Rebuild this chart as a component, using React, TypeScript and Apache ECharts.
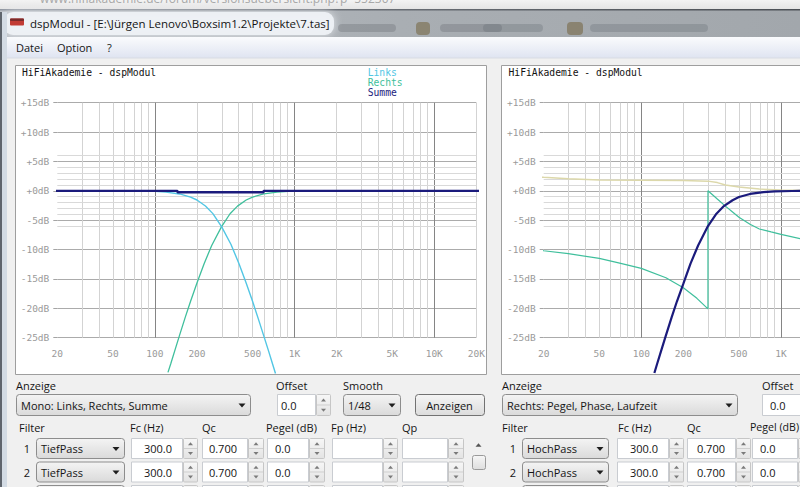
import React, { useEffect, useRef } from 'react';
import * as echarts from 'echarts';

// ---------- data ----------
const xTickFreqs = [20, 50, 100, 200, 500, 1000, 2000, 5000, 10000, 20000];
const xTickLabels = ['20', '50', '100', '200', '500', '1K', '2K', '5K', '10K', '20K'];
const rightVisibleMaxFreq = 1000; // the right window is cut by the screen edge after 1K
const gridFreqs = [20, 30, 40, 50, 60, 70, 80, 90, 100, 200, 300, 400, 500, 600, 700, 800, 900,
  1000, 2000, 3000, 4000, 5000, 6000, 7000, 8000, 9000, 10000, 20000];
const decadeFreqs = [100, 1000, 10000];
const fineDbLines = [-6, -4, -3, -2, -1, 1, 2, 3, 4, 6];

const linksFreq = [20, 50, 100, 120, 150, 180, 200, 230, 260, 300, 350, 400, 450, 500, 550, 600, 650, 700, 730];
const linksDb = [0, -0.02, -0.1, -0.22, -0.53, -1.06, -1.56, -2.58, -3.88, -6.1, -9.1, -12.4, -15.7, -18.8, -21.8, -24.6, -27.2, -29.7, -31.1];

const rechtsFreq = [124, 130, 140, 150, 165, 180, 200, 225, 255, 300, 345, 390, 450, 500, 600, 750, 900, 1200, 2000, 20000];
const rechtsDb = [-30.9, -29.4, -26.9, -24.6, -21.5, -18.8, -15.7, -12.4, -9.3, -6.1, -3.9, -2.6, -1.56, -1.06, -0.53, -0.22, -0.1, -0.03, 0, 0];

const summeFreq = [18.6, 145, 145, 600, 600, 23000];
const summeDb = [0, 0, -0.25, -0.25, 0, 0];

const pegelFreq = [124, 130, 140, 150, 165, 180, 200, 225, 255, 300, 345, 390, 450, 500, 600, 750, 900, 1200, 2000, 20000];
const pegelDb = [-31.0, -29.4, -26.9, -24.6, -21.5, -18.8, -15.8, -12.4, -9.3, -6.0, -3.9, -2.6, -1.6, -1.06, -0.53, -0.22, -0.1, -0.03, 0, 0];

const phaseFreq = [19.2, 20, 30, 50, 70, 100, 150, 200, 250, 300, 300, 350, 400, 450, 500, 600, 700, 850, 1000, 1400, 2000, 5000, 20000];
const phaseDb = [-10.1, -10.2, -10.7, -11.5, -12.3, -13.2, -14.8, -16.5, -18.3, -20.1, 0, -1.4, -2.6, -3.6, -4.5, -5.7, -6.5, -7.0, -7.4, -8.2, -9.0, -10.5, -11.5];

const laufzeitFreq = [19, 20, 30, 50, 100, 200, 300, 350, 400, 500, 700, 1000, 1400, 2000, 20000];
const laufzeitDb = [2.35, 2.3, 2.05, 1.85, 1.8, 1.75, 1.65, 1.4, 1.0, 0.65, 0.3, 0.15, 0.1, 0.05, 0];

const legendNames = ['Links', 'Rechts', 'Summe'];

// ---------- styles ----------
const MONO = '"DejaVu Sans Mono", "Liberation Mono", monospace';
const UI = '"Open Sans", "Noto Sans", sans-serif';
const C_LINKS = '#52c6e4';
const C_RECHTS = '#3fbf9c';
const C_SUMME = '#1b1b7c';
const C_BEIGE = '#dcd8aa';
const AXIS_TXT = '#9a9a9a';

function vgrad(c1: string, c2: string) {
  return { type: 'linear', x: 0, y: 0, x2: 0, y2: 1, colorStops: [{ offset: 0, color: c1 }, { offset: 1, color: c2 }] };
}
function rect(x: number, y: number, w: number, h: number, fill: any, stroke?: string, r = 0, z = -5, extra: any = {}) {
  return { type: 'rect', z, silent: true, shape: { x, y, width: w, height: h, r }, style: { fill, stroke: stroke || 'none', lineWidth: 1, ...extra } };
}
function txt(x: number, y: number, text: string, opt: any = {}) {
  const align = opt.align || 'left';
  return {
    type: 'text', z: 6, silent: true, x, y,
    style: {
      text, fill: opt.fill || '#151515', font: opt.font || `11px ${UI}`,
      textAlign: align, align, textVerticalAlign: 'middle', verticalAlign: 'middle',
    },
  };
}
function tri(cx: number, cy: number, w: number, h: number, up: boolean, fill: string) {
  const pts = up
    ? [[cx - w / 2, cy + h / 2], [cx + w / 2, cy + h / 2], [cx, cy - h / 2]]
    : [[cx - w / 2, cy - h / 2], [cx + w / 2, cy - h / 2], [cx, cy + h / 2]];
  return { type: 'polygon', z: 6, silent: true, shape: { points: pts }, style: { fill } };
}
function combo(x: number, y: number, w: number, h: number, label: string) {
  return [
    rect(x + 0.5, y + 0.5, w, h, vgrad('#f4f4f4', '#dadada'), '#8d8d8d', 3, 2),
    txt(x + 5, y + h / 2 + 0.5, label),
    tri(x + w - 8, y + h / 2 + 1, 7, 4, false, '#1e1e1e'),
  ];
}
function input(x: number, y: number, w: number, h: number, val: string, align: 'left' | 'right', pad: number) {
  const arr: any[] = [rect(x + 0.5, y + 0.5, w, h, '#ffffff', '#c9ccd1', 0, 2)];
  if (val) arr.push(txt(align === 'right' ? x + w - pad : x + pad, y + h / 2 + 0.5, val, { align }));
  return arr;
}
function spinner(x: number, y: number, w: number, h: number) {
  return [
    rect(x + 0.5, y + 0.5, w - 1, h, vgrad('#f7f7f7', '#e3e3e3'), '#c6c6c6', 1, 2),
    { type: 'line', z: 3, silent: true, shape: { x1: x + 1, y1: y + h / 2 + 0.5, x2: x + w - 1, y2: y + h / 2 + 0.5 }, style: { stroke: '#cfcfcf', lineWidth: 1 } },
    tri(x + w / 2, y + h / 4 + 0.8, 5, 3, true, '#7a7a7a'),
    tri(x + w / 2, y + (3 * h) / 4 + 0.5, 5, 3, false, '#7a7a7a'),
  ];
}
function button(x: number, y: number, w: number, h: number, label: string) {
  return [
    rect(x + 0.5, y + 0.5, w, h, vgrad('#f5f5f5', '#dcdcdc'), '#727272', 3, 2),
    txt(x + w / 2, y + h / 2 + 0.5, label, { align: 'center' }),
  ];
}

type Cell = [number, number, string, 'left' | 'right', number, number]; // x, w, value, align, pad, spinnerW
function filterRow(y: number, n: string, numX: number, comboX: number, comboW: number, type: string, cells: Cell[]) {
  const h = 20;
  let arr: any[] = [...combo(comboX, y, comboW, h, type)];
  if (n) arr.push(txt(numX, y + h / 2 + 0.5, n, { align: 'center' }));
  cells.forEach(([x, w, v, al, pad, sw]) => {
    arr = arr.concat(input(x, y, w, h, v, al, pad), spinner(x + w + 1, y, sw, h));
  });
  return arr;
}

function buildUi() {
  let g: any[] = [];
  // browser strip behind the window
  g.push(rect(0, 0, 800, 11, vgrad('#f3f3f3', '#e1e1e1'), undefined, 0, -20));
  g.push(txt(40, -1.5, 'www.hifiakademie.de/forum/versionsuebersicht.php?p=552307', { fill: '#a8a8a8', font: `12px ${UI}` }));
  // title bar (glass)
  g.push(rect(0, 10, 800, 27, { type: 'linear', x: 0, y: 0, x2: 1, y2: 0, colorStops: [
    { offset: 0, color: '#b9bec4' }, { offset: 0.5, color: '#a9aeb3' }, { offset: 1, color: '#a2a7ac' }] }, undefined, 0, -20));
  g.push(rect(0, 9, 800, 1.5, { type: 'linear', x: 0, y: 0, x2: 1, y2: 0, colorStops: [
    { offset: 0, color: '#9096a0' }, { offset: 0.45, color: '#6a6f76' }, { offset: 1, color: '#4c5056' }] }, undefined, 0, -19));
  g.push(rect(4, 12, 330, 23, 'rgba(238,241,245,0.95)', undefined, 9, -19, { shadowBlur: 8, shadowColor: 'rgba(238,241,245,0.9)' }));
  // blurred things behind the glass
  g.push(rect(338, 24, 58, 8, 'rgba(95,100,106,0.3)', undefined, 4, -18));
  g.push(rect(416, 22, 14, 13, 'rgba(110,92,50,0.5)', undefined, 4, -18));
  g.push(rect(440, 24, 62, 8, 'rgba(95,100,106,0.3)', undefined, 4, -18));
  g.push(rect(483, 24, 60, 8, 'rgba(95,100,106,0.28)', undefined, 4, -18));
  g.push(rect(567, 22, 16, 13, 'rgba(110,92,50,0.5)', undefined, 4, -18));
  g.push(rect(590, 24, 118, 8, 'rgba(95,100,106,0.28)', undefined, 4, -18));
  // window frame left
  g.push(rect(0, 12, 2, 475, '#5f656d', undefined, 0, -17));
  g.push(rect(2, 12, 5, 475, '#d3dbe4', undefined, 0, -17));
  // icon + title
  g.push(rect(10, 18.5, 14, 7, '#c23b34', undefined, 1, -16));
  g.push(rect(10, 18.5, 14, 2.5, '#7b2b2b', undefined, 1, -15));
  g.push(txt(30, 23.5, 'dspModul - [E:\\Jürgen Lenovo\\Boxsim1.2\\Projekte\\7.tas]', { font: `11.5px ${UI}`, fill: '#141414' }));
  // menu bar
  g.push(rect(7, 37, 793, 21, vgrad('#fafbfd', '#dfe4f1'), undefined, 0, -16));
  g.push(rect(7, 57.5, 793, 1, '#d8dce4', undefined, 0, -15));
  g.push(txt(16, 47.5, 'Datei'));
  g.push(txt(57, 47.5, 'Option'));
  g.push(txt(107, 47.5, '?'));
  // chart panels
  g.push(rect(15.5, 65.5, 471, 309, '#ffffff', '#9e9e9e', 0, -12));
  g.push(rect(501.5, 65.5, 330, 309, '#ffffff', '#9e9e9e', 0, -12));
  g.push(txt(22, 72.5, 'HiFiAkademie - dspModul', { font: `9.7px ${MONO}`, fill: '#111' }));
  g.push(txt(508.5, 72.5, 'HiFiAkademie - dspModul', { font: `9.7px ${MONO}`, fill: '#111' }));

  // ---- left control block ----
  g.push(txt(16, 385.5, 'Anzeige'));
  g = g.concat(combo(16, 394, 234, 21, 'Mono: Links, Rechts, Summe'));
  g.push(txt(276, 385.5, 'Offset'));
  g = g.concat(input(277, 394, 38, 21, '0.0', 'left', 4), spinner(316, 394, 15, 21));
  g.push(txt(343, 385.5, 'Smooth'));
  g = g.concat(combo(343, 394, 57, 21, '1/48'));
  g = g.concat(button(415, 394, 69, 21, 'Anzeigen'));
  g.push(txt(19, 427, 'Filter'));
  g.push(txt(130, 427, 'Fc (Hz)'));
  g.push(txt(202, 427, 'Qc'));
  g.push(txt(266, 427, 'Pegel (dB)'));
  g.push(txt(331, 427, 'Fp (Hz)'));
  g.push(txt(402, 427, 'Qp'));
  const leftCells = (fc: string, qc: string, pg: string): Cell[] => [
    [131, 51, fc, 'right', 10, 15], [202, 45, qc, 'right', 10, 16], [267, 41, pg, 'left', 8, 16],
    [332, 50, '', 'left', 8, 15], [402, 45, '', 'left', 8, 16],
  ];
  g = g.concat(filterRow(438, '1', 27, 36, 88, 'TiefPass', leftCells('300.0', '0.700', '0.0')));
  g = g.concat(filterRow(461.5, '2', 27, 36, 88, 'TiefPass', leftCells('300.0', '0.700', '0.0')));
  g = g.concat(filterRow(485, '', 27, 36, 88, '', leftCells('', '', '')));
  // scrollbar
  g.push(tri(478.5, 445, 6, 3.5, true, '#555'));
  g.push(rect(472.5, 455.5, 13, 14, vgrad('#f6f6f6', '#dedede'), '#9a9a9a', 2, 2));

  // ---- right control block ----
  g.push(txt(502, 385.5, 'Anzeige'));
  g = g.concat(combo(502, 394, 235, 21, 'Rechts: Pegel, Phase, Laufzeit'));
  g.push(txt(762, 385.5, 'Offset'));
  g = g.concat(input(762, 394, 50, 21, '0.0', 'left', 8));
  g.push(txt(502, 427, 'Filter'));
  g.push(txt(618, 427, 'Fc (Hz)'));
  g.push(txt(687, 427, 'Qc'));
  g.push(txt(750, 427, 'Pegel (dB)', { font: `10.6px ${UI}` }));
  const rightCells = (fc: string, qc: string, pg: string): Cell[] => [
    [617, 51, fc, 'right', 10, 15], [687, 48, qc, 'right', 10, 15], [752, 45, pg, 'left', 8, 16],
  ];
  g = g.concat(filterRow(438, '1', 513, 522, 86, 'HochPass', rightCells('300.0', '0.700', '0.0')));
  g = g.concat(filterRow(461.5, '2', 513, 522, 86, 'HochPass', rightCells('300.0', '0.700', '0.0')));
  g = g.concat(filterRow(485, '', 513, 522, 86, '', rightCells('', '', '')));
  return g;
}

// ---------- chart ----------
const lg = (f: number) => Math.log10(f);
const toPairs = (fs: number[], ds: number[]) => fs.map((f, i) => [lg(f), ds[i]]);

function xAxisDef(gi: number, labelFreqs: number[]) {
  return {
    type: 'value', gridIndex: gi, min: lg(20), max: lg(20000),
    axisLine: { show: false },
    axisTick: { show: false, customValues: labelFreqs.map(lg) },
    axisLabel: {
      show: true, customValues: labelFreqs.map(lg), margin: 11, color: AXIS_TXT,
      fontFamily: MONO, fontSize: 9.5,
      formatter: (v: number) => {
        const i = xTickFreqs.findIndex((f) => Math.abs(lg(f) - v) < 1e-6);
        return i >= 0 ? xTickLabels[i] : '';
      },
    },
    splitLine: { show: false },
  };
}
function yAxisDef(gi: number) {
  return {
    type: 'value', gridIndex: gi, min: -25, max: 15, interval: 5,
    axisLine: { show: false },
    axisTick: { show: true, length: 4, lineStyle: { color: '#a4a4a4', width: 1 } },
    axisLabel: {
      margin: 8, color: AXIS_TXT, fontFamily: MONO, fontSize: 9.5,
      formatter: (v: number) => (v >= 0 ? '+' : '') + v + 'dB',
    },
    splitLine: { show: true, showMinLine: true, showMaxLine: true, lineStyle: { color: '#ababab', width: 1 } },
  };
}
function gridLines() {
  return {
    silent: true, symbol: 'none', z: 1, animation: false,
    label: { show: false }, emphasis: { disabled: true },
    lineStyle: { type: 'solid', width: 1, color: '#d8d8d8' },
    data: [
      ...gridFreqs.map((f) => ({
        xAxis: lg(f),
        lineStyle: { type: 'solid', width: 1, color: decadeFreqs.includes(f) ? '#858585' : '#d3d3d3' },
      })),
      ...fineDbLines.map((v) => ({ yAxis: v, lineStyle: { type: 'solid', width: 1, color: '#d9d9d9' } })),
    ],
  };
}
function line(name: string, gi: number, fs: number[], ds: number[], color: string, width: number, z: number, extra: any = {}) {
  return {
    type: 'line', name, xAxisIndex: gi, yAxisIndex: gi, data: toPairs(fs, ds),
    showSymbol: false, symbol: 'none', clip: false, smooth: false, silent: true, z,
    lineStyle: { color, width }, itemStyle: { color }, emphasis: { disabled: true },
    ...extra,
  };
}

function buildOption() {
  return {
    animation: false,
    backgroundColor: '#f0f0f0',
    tooltip: { show: false },
    grid: [
      { left: 57.3, top: 102.7, width: 419, height: 235, containLabel: false, outerBoundsMode: 'none' },
      { left: 543.7, top: 102.7, width: 419, height: 235, containLabel: false, outerBoundsMode: 'none' },
    ],
    xAxis: [xAxisDef(0, xTickFreqs), xAxisDef(1, xTickFreqs.filter((f) => f <= rightVisibleMaxFreq))],
    yAxis: [yAxisDef(0), yAxisDef(1)],
    legend: {
      show: true, orient: 'vertical', left: 362.7, top: 67, itemGap: 0, itemWidth: 0, itemHeight: 10,
      icon: 'none', selectedMode: false, padding: 0,
      textStyle: { fontFamily: MONO, fontSize: 9.7, lineHeight: 10, padding: 0 },
      data: [
        { name: legendNames[0], textStyle: { color: C_LINKS } },
        { name: legendNames[1], textStyle: { color: C_RECHTS } },
        { name: legendNames[2], textStyle: { color: C_SUMME } },
      ],
    },
    graphic: { elements: buildUi() },
    series: [
      line(legendNames[1], 0, rechtsFreq, rechtsDb, C_RECHTS, 1.3, 3, { markLine: gridLines() }),
      line(legendNames[0], 0, linksFreq, linksDb, C_LINKS, 1.4, 3),
      line(legendNames[2], 0, summeFreq, summeDb, C_SUMME, 2.4, 4),
      line('Laufzeit', 1, laufzeitFreq, laufzeitDb, C_BEIGE, 1.5, 3, { markLine: gridLines() }),
      line('Phase', 1, phaseFreq, phaseDb, C_RECHTS, 1.2, 3),
      line('Pegel', 1, pegelFreq, pegelDb, C_SUMME, 2.2, 4),
    ],
  };
}

export default function App() {
  const ref = useRef<HTMLDivElement>(null);
  useEffect(() => {
    document.body.style.margin = '0';
    const chart = echarts.init(ref.current as HTMLDivElement, null, { renderer: 'svg' });
    chart.setOption(buildOption() as any);
    return () => chart.dispose();
  }, []);
  return <div ref={ref} style={{ position: 'fixed', left: 0, top: 0, width: 800, height: 487 }} />;
}
